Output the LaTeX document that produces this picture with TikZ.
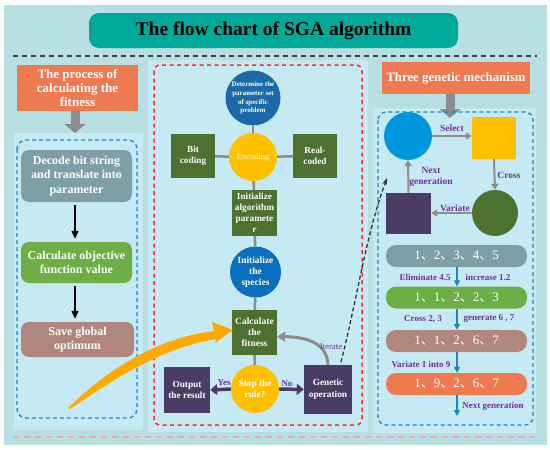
\documentclass[tikz,border=0pt]{standalone}
\usepackage{fontspec}
\setmainfont{Liberation Serif}
\newfontfamily\cjk{Noto Sans CJK SC}
\usetikzlibrary{arrows.meta}
\pgfdeclarelayer{bglayer}
\pgfdeclarelayer{midlayer}
\pgfsetlayers{bglayer,midlayer,main}
\newcommand\myfs[2]{\fontsize{#1}{#2}\selectfont}
\newcommand\mydun{{\cjk 、}}
\definecolor{outerbg}{HTML}{B8E0E3}
\definecolor{panelbg}{HTML}{C6EAF3}
\definecolor{ctitle}{HTML}{00A99A}
\definecolor{corange}{HTML}{EE7A52}
\definecolor{cgray}{HTML}{8C8C8C}
\definecolor{cdb}{HTML}{1B6AA5}
\definecolor{cspec}{HTML}{0B70BC}
\definecolor{cyel}{HTML}{FFC000}
\definecolor{cdg}{HTML}{4E7031}
\definecolor{cpur}{HTML}{4B3C65}
\definecolor{cgb}{HTML}{7F9FA7}
\definecolor{cgreen}{HTML}{6DAE45}
\definecolor{cbrown}{HTML}{B0867D}
\definecolor{cbar}{HTML}{EE7A50}
\definecolor{labp}{HTML}{7030A0}
\definecolor{cblue}{HTML}{1B87BE}
\definecolor{cbright}{HTML}{0096DB}
\definecolor{cred}{HTML}{FF2A2A}
\definecolor{cpink}{HTML}{F4A6B6}
\definecolor{cdash}{HTML}{1A8AC9}
\definecolor{camber}{HTML}{FFAA00}
\definecolor{encText}{HTML}{FFF2CC}
\begin{document}
\begin{tikzpicture}[x=1pt,y=-1pt,
  wt/.style={text=white,align=center,inner sep=0pt},
  sqbox/.style={wt,fill=cdg,font=\myfs{9.3}{11}\bfseries},
  pbox/.style={wt,fill=cpur,font=\myfs{9.3}{11.5}\bfseries},
  lbox/.style={wt,rounded corners=8pt,minimum width=111pt,font=\myfs{12}{14.2}\bfseries},
  bar/.style={wt,rounded corners=10pt,minimum width=141pt,minimum height=22pt,font=\myfs{13}{14}},
  lbl/.style={text=labp,inner sep=0pt,font=\myfs{9}{10}\bfseries},
  conn/.style={draw=cgray,line width=2.5pt},
  garr/.style={draw=cgray,line width=2pt,-{Triangle[width=7pt,length=6pt]}},
  barr/.style={draw=cblue,line width=1.5pt,-{Triangle[width=6pt,length=6pt]}},
  karr/.style={draw=black,line width=1.3pt,-{Triangle[width=7pt,length=8pt]}},
  parr/.style={draw=cpur,line width=3.5pt,-{Triangle[width=11pt,length=7pt]}},
  bigarr/.style={draw=cgray,line width=9pt,-{Triangle[width=21pt,length=9pt]}},
  circ/.style={circle,wt,inner sep=0pt},
]
\useasboundingbox (0,0) rectangle (550,450);
\begin{pgfonlayer}{bglayer}
\fill[white] (0,0) rectangle (550,450);
\fill[outerbg] (4,5) rectangle (547,445);
\fill[panelbg] (14,133) rectangle (143,430);
\fill[panelbg] (148,60) rectangle (368,432);
\fill[panelbg] (373,108) rectangle (536,433);
\draw[black!75,line width=1.5pt,dash pattern=on 5pt off 4pt] (13,56) -- (537,56);
\draw[cpink,line width=1.5pt,dash pattern=on 6pt off 5pt] (13,437) -- (535,437);
\end{pgfonlayer}

% title
\node[fill=ctitle,rounded corners=10pt,minimum width=369pt,minimum height=35pt,inner sep=0pt,font=\myfs{19.5}{22}\bfseries] (title) at (273.5,30.5) {The flow chart of SGA algorithm};

% ---------- left ----------
\node[wt,fill=corange,minimum width=121pt,minimum height=46pt,font=\myfs{13}{14.3}\bfseries] (ltitle) at (77.5,88) {The process of\\calculating the\\fitness};
\coordinate (la) at (75,133);
\draw[bigarr] (ltitle.south -| la) -- (la);
\draw[cdash,line width=1.3pt,dash pattern=on 4pt off 3pt,rounded corners=9pt] (17,140) rectangle (137,418);
\node[lbox,fill=cgb,minimum height=52pt] (decode) at (76.5,176) {Decode bit string\\and translate into\\parameter};
\node[lbox,fill=cgreen,minimum height=41pt] (calcobj) at (76.5,262.5) {Calculate objective\\function value};
\node[lbox,fill=cbrown,minimum height=35pt,minimum width=113pt] (save) at (77.5,339.5) {Save global\\optimum};
\draw[karr,shorten <=3pt,shorten >=3pt] (decode.south -| la) -- (calcobj.north -| la);
\draw[karr,shorten <=3pt,shorten >=3pt] (calcobj.south -| la) -- (save.north -| la);

% ---------- middle ----------
\draw[cred,line width=1.5pt,dash pattern=on 4pt off 3.5pt,rounded corners=6pt] (154,65) rectangle (362,425);
\node[circ,fill=cdb,minimum size=55pt,font=\myfs{7}{8.7}\bfseries] (det) at (253,98) {Determine the\\parameter set\\of specific\\problem};
\node[circ,fill=cyel,minimum size=48pt,text=encText,font=\myfs{8.5}{10}] (enc) at (253,157) {Encoding};
\node[sqbox,minimum width=44pt,minimum height=44pt] (bit) at (193,156) {Bit\\coding};
\node[sqbox,minimum width=44pt,minimum height=44pt] (real) at (315,156) {Real-\\coded};
\node[sqbox,minimum width=45pt,minimum height=46pt] (init) at (254.5,213) {Initialize\\algorithm\\paramete\\r};
\node[circ,fill=cspec,minimum size=51pt,font=\myfs{9.5}{11}\bfseries] (spec) at (255.5,272) {Initialize\\the\\species};
\node[sqbox,minimum width=45pt,minimum height=45pt,font=\myfs{9.5}{11}\bfseries] (calc) at (254.5,332.5) {Calculate\\the\\fitness};
\node[circ,fill=cyel,minimum size=48pt,font=\myfs{9.3}{11}\bfseries] (stop) at (255,389) {Stop the\\rule?};
\node[pbox,minimum width=46pt,minimum height=46pt] (out) at (187,390) {Output\\the result};
\node[pbox,minimum width=48pt,minimum height=49pt] (gen) at (328,389.5) {Genetic\\operation};
\begin{pgfonlayer}{midlayer}
\draw[conn] (det) -- (enc);
\draw[conn] (enc) -- (bit);
\draw[conn] (enc) -- (real);
\draw[conn] (enc) -- (init);
\draw[conn] (init) -- (spec);
\draw[conn] (spec) -- (calc);
\draw[conn] (calc) -- (stop);
\end{pgfonlayer}
\draw[parr] (stop.west) -- (out.east);
\draw[parr] (stop.east) -- (gen.west);
\node[lbl] (yes) at (224,383) {Yes};
\node[lbl] (no) at (287,384) {No};
\draw[garr,line width=3pt,-{Triangle[width=10pt,length=8pt]}] (gen.north) .. controls (327,342) and (305,337) .. ([yshift=-4pt]calc.east);
\node[lbl,font=\myfs{8.8}{10}] (iter) at (331,347) {Iterate};
\coordinate (dstart) at (341,362);
\coordinate (dtip) at (387,178);
\draw[black!80,line width=1.3pt,dash pattern=on 4pt off 2.5pt,-{Stealth[length=7pt,width=5pt]}] (dstart) .. controls (358,295) and (366,235) .. (dtip);
% orange brush arrow
\fill[camber] (68,408) .. controls (105,372) and (155,338) .. (214,331) -- (212,322) -- (233,330) -- (215,343) -- (216,339) .. controls (160,348) and (110,382) .. (70,409) -- cycle;

% ---------- right ----------
\node[wt,fill=corange,minimum width=148pt,minimum height=32pt,font=\myfs{12.8}{14}\bfseries] (rtitle) at (456,78) {Three genetic mechanism};
\coordinate (ra) at (450,118);
\draw[bigarr] (rtitle.south -| ra) -- (ra);
\draw[cdash,line width=1.3pt,dash pattern=on 4pt off 3pt,rounded corners=8pt] (378,112) rectangle (533,425);
\node[circle,fill=cbright,minimum size=48pt,inner sep=0pt] (c1) at (408,136) {};
\node[fill=cyel,minimum width=44pt,minimum height=42pt,inner sep=0pt] (ysq) at (494,138) {};
\node[circle,fill=cdg,minimum size=46pt,inner sep=0pt] (gc) at (495,213) {};
\node[fill=cpur,minimum width=45pt,minimum height=41pt,inner sep=0pt] (psq) at (408.5,213.5) {};
\draw[garr] (c1.east) -- (ysq.west |- c1.east);
\draw[garr] (ysq.south) -- (gc.north);
\draw[garr] (gc.west) -- (psq.east |- gc.west);
\draw[garr] (psq.north) -- (c1.south);
\node[lbl,font=\myfs{9.5}{10}\bfseries] (lsel) at (452,128) {Select};
\node[lbl,font=\myfs{9.5}{10}\bfseries] (lcross) at (509,175) {Cross};
\node[lbl,font=\myfs{9.5}{10}\bfseries] (lvar) at (455,208) {Variate};
\node[lbl,font=\myfs{9.5}{11}\bfseries,align=center] (lnext) at (431,177) {Next\\generation};

\node[bar,fill=cgb] (b1) at (456.5,256) {1\mydun2\mydun3\mydun4\mydun5};
\node[bar,fill=cgreen] (b2) at (456.5,297.5) {1\mydun1\mydun2\mydun2\mydun3};
\node[bar,fill=cbrown] (b3) at (456.5,341) {1\mydun1\mydun2\mydun6\mydun7};
\node[bar,fill=cbar] (b4) at (456.5,384) {1\mydun9\mydun2\mydun6\mydun7};
\coordinate (bx) at (457,0);
\coordinate (bend) at (457,416);
\draw[barr] (b1.south -| bx) -- (b2.north -| bx);
\draw[barr] (b2.south -| bx) -- (b3.north -| bx);
\draw[barr] (b3.south -| bx) -- (b4.north -| bx);
\draw[barr] (b4.south -| bx) -- (bend);
\node[lbl] (e1) at (425,277) {Eliminate 4.5};
\node[lbl] (e2) at (488,277) {increase 1.2};
\node[lbl] (e3) at (423,319) {Cross 2, 3};
\node[lbl] (e4) at (489,319) {generate 6 , 7};
\node[lbl] (e5) at (421,364) {Variate 1 into 9};
\node[lbl] (e6) at (493,406) {Next generation};
\end{tikzpicture}
\end{document}
